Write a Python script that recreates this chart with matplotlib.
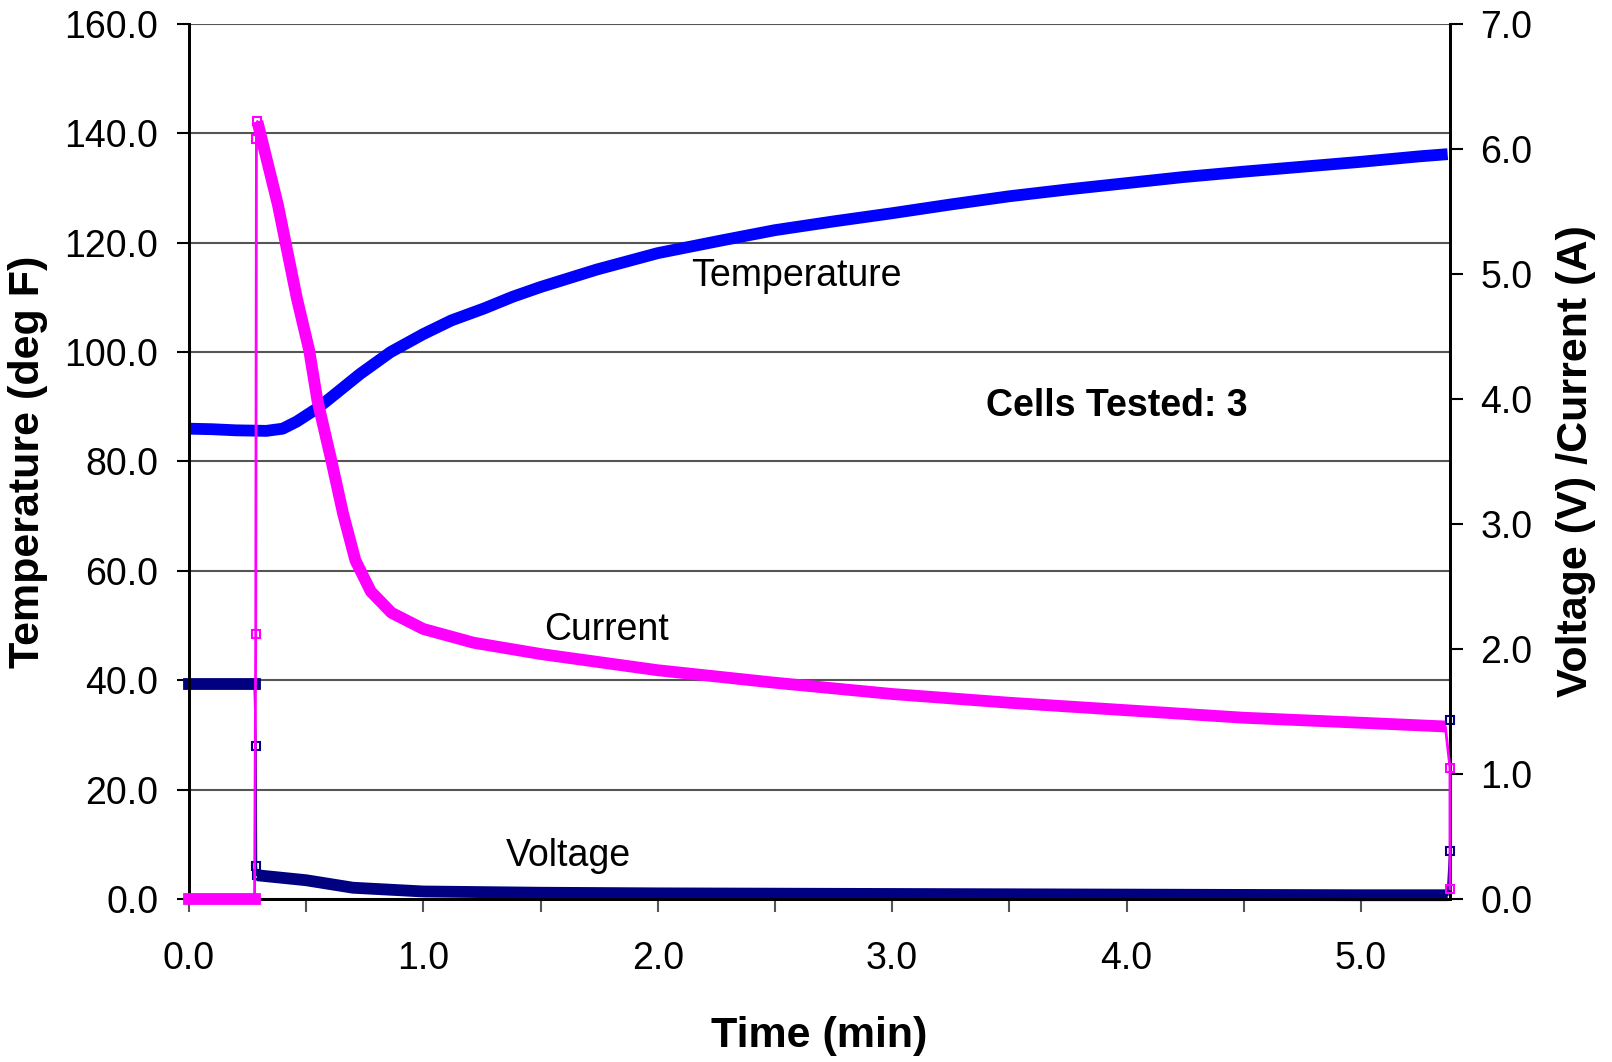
import matplotlib
matplotlib.use('Agg')
import matplotlib.pyplot as plt
from matplotlib.ticker import FormatStrFormatter

# values
temp_time = [0.0, 0.10, 0.20, 0.33, 0.40, 0.46, 0.55, 0.60, 0.73, 0.86, 1.0, 1.12, 1.26, 1.38, 1.5, 1.74, 2.0, 2.27,
	2.5, 2.75, 3.0, 3.25, 3.5, 3.76, 4.0, 4.24, 4.5, 4.75, 5.0, 5.25, 5.37]
temp_degf = [86.0, 85.9, 85.7, 85.6, 86.0, 87.3, 89.8, 91.5, 96.0, 100.0, 103.3, 105.8, 108.0, 110.1, 111.9, 115.1, 118.1, 120.4,
	122.3, 123.9, 125.4, 127.0, 128.5, 129.8, 130.9, 132.0, 133.0, 133.9, 134.8, 135.8, 136.2]

curr_time = [0.0, 0.28, 0.285, 0.288, 0.292, 0.338, 0.38, 0.46, 0.513, 0.548, 0.605, 0.658, 0.71, 0.776, 0.864, 1.0, 1.215,
	1.5, 2.0, 2.5, 3.0, 3.5, 4.0, 4.5, 5.0, 5.36, 5.38, 5.38]
curr_amp = [0.0, 0.0, 2.12, 6.08, 6.22, 5.87, 5.55, 4.81, 4.39, 3.99, 3.53, 3.08, 2.71, 2.46, 2.29, 2.16, 2.05,
	1.96, 1.83, 1.73, 1.64, 1.57, 1.51, 1.45, 1.41, 1.38, 1.05, 0.08]

volt_time = [0.0, 0.28, 0.285, 0.287, 0.29, 0.5, 0.7, 1.0, 1.5, 2.0, 3.0, 4.0, 5.0, 5.37, 5.38, 5.38]
volt_v = [1.72, 1.72, 1.22, 0.26, 0.19, 0.15, 0.09, 0.06, 0.05, 0.045, 0.04, 0.035, 0.03, 0.03, 0.38, 1.43]

temp_ticks = [0, 20, 40, 60, 80, 100, 120, 140, 160]
volt_ticks = [0, 1, 2, 3, 4, 5, 6, 7]
time_ticks = [0.0, 0.5, 1.0, 1.5, 2.0, 2.5, 3.0, 3.5, 4.0, 4.5, 5.0]
time_labels = ['0.0', '', '1.0', '', '2.0', '', '3.0', '', '4.0', '', '5.0']

plt.rcParams['font.family'] = ['Liberation Sans', 'DejaVu Sans']

BLUE = '#0000FF'
NAVY = '#000080'
MAGENTA = '#FF00FF'
THICK = 8.5


def main():
	fig = plt.figure(figsize=(16.12, 10.62), dpi=100)
	ax = fig.add_axes([0.1172, 0.1535, 0.7823, 0.8239])
	ax2 = ax.twinx()

	# temperature on left axis
	ax.plot(temp_time, temp_degf, color=BLUE, lw=THICK, solid_capstyle='butt', solid_joinstyle='round',
		clip_on=False, zorder=3)

	# voltage and current on right axis
	ax2.plot(volt_time, volt_v, color=NAVY, lw=1.5, clip_on=False, zorder=2)
	ax2.plot(volt_time[0:2], volt_v[0:2], color=NAVY, lw=THICK, solid_capstyle='projecting', clip_on=False, zorder=2)
	ax2.plot(volt_time[4:-2], volt_v[4:-2], color=NAVY, lw=THICK, solid_capstyle='butt', clip_on=False, zorder=2)
	jv = [2, 3, 4, len(volt_time) - 2, len(volt_time) - 1]
	ax2.plot([volt_time[i] for i in jv], [volt_v[i] for i in jv], ls='none', marker='s', ms=6,
		mfc='none', mec=NAVY, mew=1.5, clip_on=False, zorder=2)

	ax2.plot(curr_time, curr_amp, color=MAGENTA, lw=2, clip_on=False, zorder=3)
	ax2.plot(curr_time[0:2], curr_amp[0:2], color=MAGENTA, lw=THICK, solid_capstyle='projecting', clip_on=False, zorder=3)
	ax2.plot(curr_time[4:-2], curr_amp[4:-2], color=MAGENTA, lw=THICK, solid_capstyle='butt', solid_joinstyle='round',
		clip_on=False, zorder=3)
	jc = [2, 3, 4, len(curr_time) - 2, len(curr_time) - 1]
	ax2.plot([curr_time[i] for i in jc], [curr_amp[i] for i in jc], ls='none', marker='s', ms=6,
		mfc='none', mec=MAGENTA, mew=1.5, clip_on=False, zorder=3)

	ax.set_xlim(0, 5.38)
	ax.set_ylim(0, 160)
	ax2.set_ylim(0, 7)

	ax.set_yticks(temp_ticks)
	ax2.set_yticks(volt_ticks)
	ax.set_xticks(time_ticks)
	ax.set_xticklabels(time_labels)
	ax.yaxis.set_major_formatter(FormatStrFormatter('%.1f'))
	ax2.yaxis.set_major_formatter(FormatStrFormatter('%.1f'))

	ax.grid(axis='y', color='#555555', lw=1.5)
	ax.set_axisbelow(True)
	for a in (ax, ax2):
		a.spines['top'].set_visible(False)
		a.spines['left'].set_linewidth(2)
		a.spines['right'].set_linewidth(2)
		a.spines['bottom'].set_linewidth(2)
	ax.tick_params(axis='y', direction='out', length=9, width=1.5, labelsize=27, pad=13)
	ax.tick_params(axis='x', direction='out', length=9, width=1.5, labelsize=27, pad=21, color='#555555')
	ax2.tick_params(axis='y', direction='out', length=9, width=1.5, labelsize=27, pad=13)

	ax.set_xlabel('Time (min)', fontsize=31, fontweight='bold', labelpad=28)
	ax.set_ylabel('Temperature (deg F)', fontsize=31, fontweight='bold', labelpad=12)
	ax2.set_ylabel('Voltage (V) /Current (A)', fontsize=31, fontweight='bold', labelpad=17)

	ax.text(2.59, 114, 'Temperature', fontsize=27, ha='center', va='center', zorder=5)
	ax.text(1.78, 49.2, 'Current', fontsize=27, ha='center', va='center', zorder=5)
	ax.text(1.62, 7.9, 'Voltage', fontsize=27, ha='center', va='center', zorder=5)
	ax.text(3.96, 90.1, 'Cells Tested: 3', fontsize=27, fontweight='bold', ha='center', va='center', zorder=5)

	fig.savefig('out.png', dpi=100)


if __name__ == '__main__':
	main()
